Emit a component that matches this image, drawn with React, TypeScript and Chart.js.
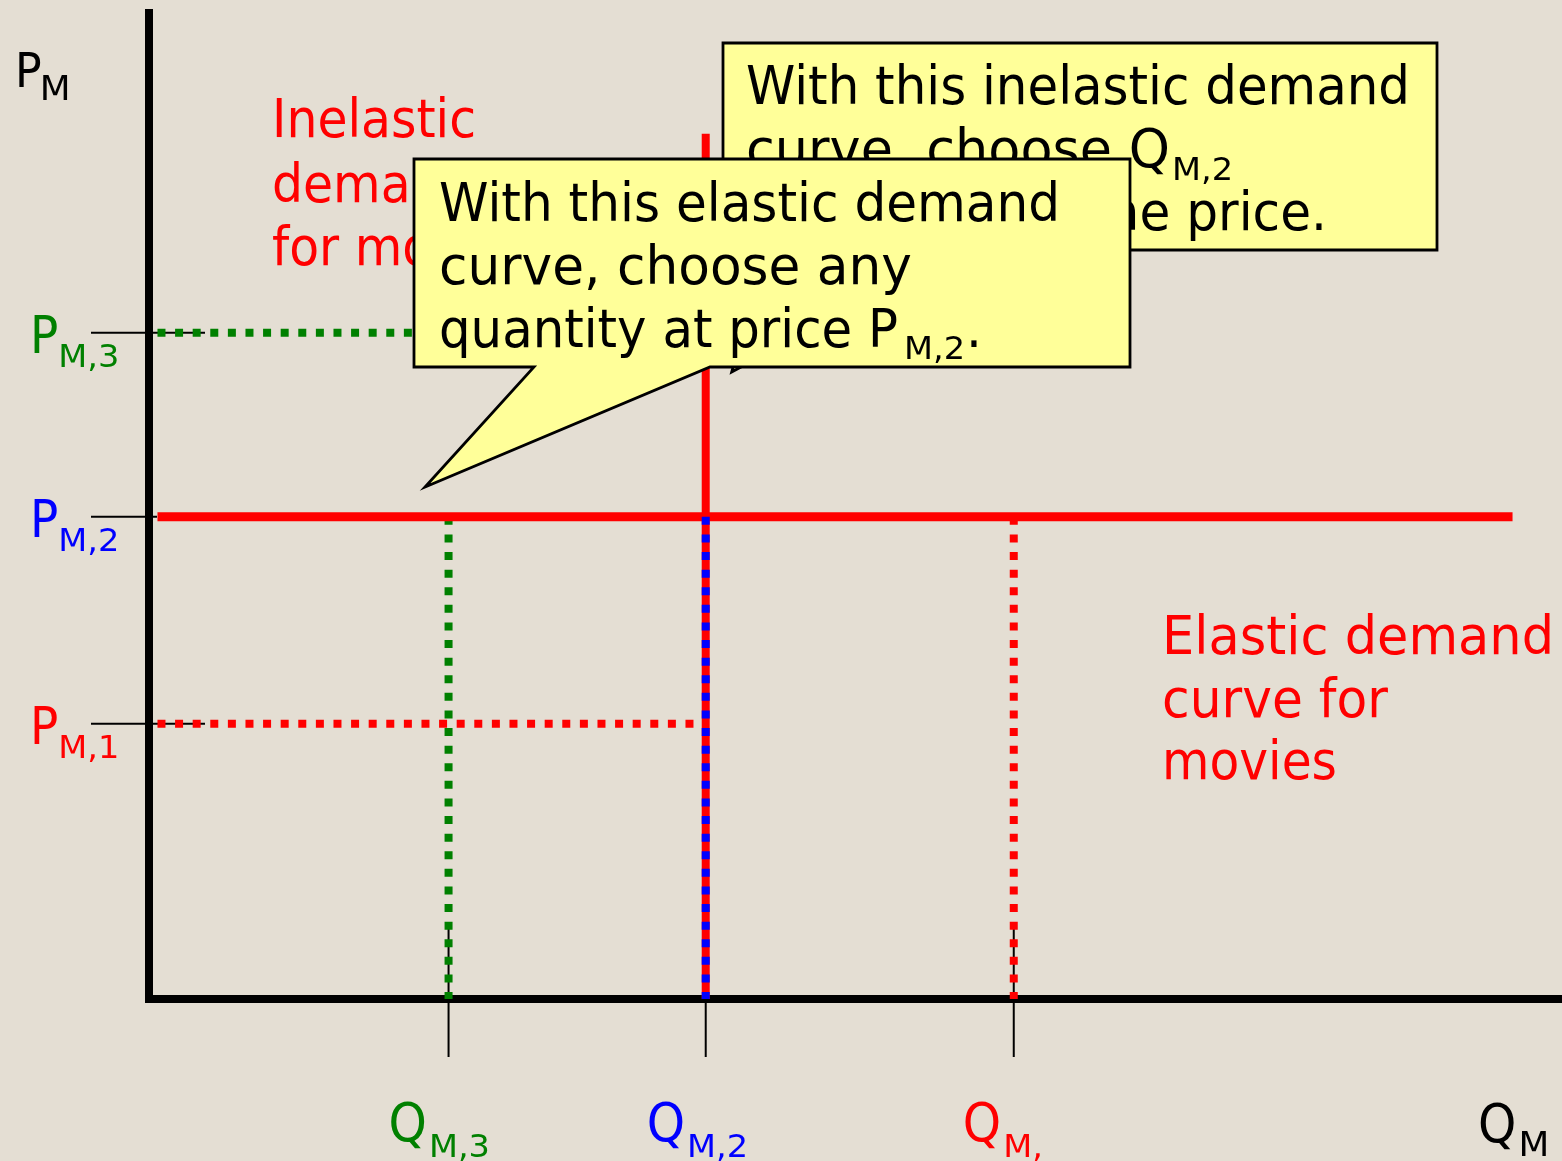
import React, { useEffect, useRef } from "react";
import { Chart, registerables } from "chart.js";

Chart.register(...registerables);

// ---- data (axis units 0..10) ----
const priceNames = ["M,3", "M,2", "M,1"];
const priceLevels = [6.73, 4.87, 2.78]; // P_M,3, P_M,2, P_M,1
const quantityNames = ["M,3", "M,2", "M,"];
const quantityLevels = [2.12, 3.94, 6.12]; // Q_M,3, Q_M,2, Q_M,1
const elasticDemandQ = [0.06, 9.65]; // horizontal demand at P_M,2
const inelasticDemandP = [0, 8.74]; // vertical demand at Q_M,2
const inelasticLabel = ["Inelastic", "demand", "for movies"];
const elasticLabel = ["Elastic demand", "curve for", "movies"];
const inelasticNote = ["With this inelastic demand", "curve, choose Q", "regardless of the price."];
const elasticNote = ["With this elastic demand", "curve, choose any", "quantity at price P"];

const RED = "#FF0000";
const GREEN = "#008000";
const BLUE = "#0000FF";
const BG = "#E4DED3";
const NOTE = "#FFFF99";
const FONT = '"DejaVu Sans"';
const DOT = [8, 9.6];

function setFont(ctx: CanvasRenderingContext2D, size: number) {
  ctx.font = `${size}px ${FONT}`;
}

function textAt(ctx: CanvasRenderingContext2D, t: string, x: number, y: number, size: number, color: string, sx: number) {
  setFont(ctx, size);
  ctx.save();
  ctx.translate(x, y);
  ctx.scale(sx, 1);
  ctx.fillStyle = color;
  ctx.textBaseline = "alphabetic";
  ctx.textAlign = "left";
  ctx.fillText(t, 0, 0);
  ctx.restore();
  return ctx.measureText(t).width * sx;
}

function fitScale(ctx: CanvasRenderingContext2D, t: string, size: number, target: number) {
  setFont(ctx, size);
  return target / ctx.measureText(t).width;
}

function block(
  ctx: CanvasRenderingContext2D,
  lines: string[],
  x: number,
  baselines: number[],
  size: number,
  color: string,
  targets: (number | null)[]
) {
  const sx0 = fitScale(ctx, lines[0], size, targets[0] as number);
  const ends: number[] = [];
  const sxs: number[] = [];
  lines.forEach((l, i) => {
    const tg = targets[i];
    const sx = tg ? fitScale(ctx, l, size, tg) : sx0;
    sxs.push(sx);
    ends.push(x + textAt(ctx, l, x, baselines[i], size, color, sx));
  });
  return { sx: sx0, sxs, ends };
}

function callout(ctx: CanvasRenderingContext2D, l: number, t: number, r: number, b: number, baseL: number, baseR: number, tipX: number, tipY: number) {
  ctx.save();
  ctx.beginPath();
  ctx.moveTo(l, t);
  ctx.lineTo(r, t);
  ctx.lineTo(r, b);
  ctx.lineTo(baseR, b);
  ctx.lineTo(tipX, tipY);
  ctx.lineTo(baseL, b);
  ctx.lineTo(l, b);
  ctx.closePath();
  ctx.fillStyle = NOTE;
  ctx.fill();
  ctx.lineWidth = 2.8;
  ctx.strokeStyle = "#000";
  ctx.lineJoin = "miter";
  ctx.stroke();
  ctx.restore();
}

const seg = (x1: number, y1: number, x2: number, y2: number) => [
  { x: x1, y: y1 },
  { x: x2, y: y2 },
];

export default function App() {
  const ref = useRef<HTMLCanvasElement | null>(null);

  useEffect(() => {
    if (!ref.current) return;
    const [p3, p2, p1] = priceLevels;
    const [q3, q2, q1] = quantityLevels;

    const line = (data: any, color: string, width: number, dash: number[] | undefined, order: number) => ({
      data,
      showLine: true,
      borderColor: color,
      backgroundColor: color,
      borderWidth: width,
      borderDash: dash || [],
      borderCapStyle: "butt",
      pointRadius: 0,
      pointHoverRadius: 0,
      tension: 0,
      order,
      clip: false,
    });

    const datasets = [
      line(seg(elasticDemandQ[0], p2, elasticDemandQ[1], p2), RED, 9, undefined, 3),
      line(seg(q2, inelasticDemandP[0], q2, inelasticDemandP[1]), RED, 8, undefined, 2),
      line(seg(q2, p2, q2, 0), BLUE, 8, DOT, 1),
      line(seg(q3, p2, q3, 0), GREEN, 8, DOT, 4),
      line(seg(q1, p2, q1, 0), RED, 8, DOT, 4),
      line(seg(elasticDemandQ[0], p3, q2, p3), GREEN, 8, DOT, 4),
      line(seg(elasticDemandQ[0], p1, q2, p1), RED, 8, DOT, 4),
    ];

    const bgPlugin = {
      id: "bg",
      beforeDraw(chart: any) {
        const c = chart.ctx;
        c.save();
        c.fillStyle = BG;
        c.fillRect(0, 0, chart.width, chart.height);
        c.restore();
      },
      beforeDatasetsDraw(chart: any) {
        const c = chart.ctx as CanvasRenderingContext2D;
        const xs = chart.scales.x;
        const ys = chart.scales.y;
        const ox = xs.getPixelForValue(0);
        const oy = ys.getPixelForValue(0);
        c.save();
        // thin tick marks
        c.strokeStyle = "#000";
        c.lineWidth = 2;
        priceLevels.forEach((p, i) => {
          const y = ys.getPixelForValue(p);
          c.beginPath();
          c.moveTo(ox - 58, y);
          c.lineTo(i === 1 ? ox + 8 : ox + 56, y);
          c.stroke();
        });
        quantityLevels.forEach((q) => {
          const x = xs.getPixelForValue(q);
          c.beginPath();
          c.moveTo(x, oy - 76);
          c.lineTo(x, oy + 58);
          c.stroke();
        });
        // axes
        c.lineWidth = 8;
        c.beginPath();
        c.moveTo(ox, chart.chartArea.top);
        c.lineTo(ox, oy + 4);
        c.stroke();
        c.beginPath();
        c.moveTo(ox - 4, oy);
        c.lineTo(chart.width, oy);
        c.stroke();
        c.restore();
      },
      afterDatasetsDraw(chart: any) {
        const c = chart.ctx as CanvasRenderingContext2D;
        const xs = chart.scales.x;
        const ys = chart.scales.y;
        const ox = xs.getPixelForValue(0);
        const oy = ys.getPixelForValue(0);
        const q2px = xs.getPixelForValue(quantityLevels[1]);

        // curve labels
        block(c, inelasticLabel, 272, [137, 202, 265], 53, RED, [204, null, null]);
        block(c, elasticLabel, 1162, [654, 717, 779], 53, RED, [392, 226, 175]);

        // notes
        callout(c, 723, 43, 1437, 250, 765, 960, q2px + 26, 372);
        const n1 = block(c, inelasticNote, 746, [104, 167, 230], 53, "#000", [664, 424, 581]);
        textAt(c, "M,2", n1.ends[1] + 2, 180, 32, "#000", 1.05);

        callout(c, 414, 159, 1130, 367, 534, 710, 425, 487);
        const n2 = block(c, elasticNote, 439, [221, 284, 347], 53, "#000", [621, 473, 459]);
        const subEnd = n2.ends[2] + 6 + textAt(c, "M,2", n2.ends[2] + 6, 359, 32, "#000", 1.05);
        textAt(c, ".", subEnd + 1, 347, 53, "#000", n2.sx);

        // axis titles
        const lsx = 0.92;
        const ssx = 1.05;
        const pw = textAt(c, "P", ox - 134, 87, 48, "#000", lsx);
        textAt(c, "M", ox - 134 + pw - 2, 100, 34, "#000", ssx);
        const qw = textAt(c, "Q", 1478, 1142, 53, "#000", lsx);
        textAt(c, "M", 1478 + qw + 2, 1156, 34, "#000", ssx);

        // price labels
        const pColors = [GREEN, BLUE, RED];
        priceLevels.forEach((p, i) => {
          const y = ys.getPixelForValue(p);
          const w = textAt(c, "P", ox - 119, y + 20, 51, pColors[i], lsx);
          textAt(c, priceNames[i], ox - 119 + w, y + 34, 32, pColors[i], ssx);
        });
        // quantity labels
        const qOff = [-60, -59, -51];
        quantityLevels.forEach((q, i) => {
          const x = xs.getPixelForValue(q) + qOff[i];
          const w = textAt(c, "Q", x, oy + 142, 53, pColors[i], lsx);
          textAt(c, quantityNames[i], x + w + 2, oy + 158, 32, pColors[i], ssx);
        });
      },
    };

    const chart = new Chart(ref.current, {
      type: "scatter",
      data: { datasets: datasets as any },
      options: {
        responsive: false,
        maintainAspectRatio: false,
        animation: false,
        events: [],
        layout: { padding: { left: 149, top: 9, right: 0, bottom: 162 } },
        scales: {
          x: { type: "linear", min: 0, max: 10, display: false },
          y: { type: "linear", min: 0, max: 10, display: false },
        },
        plugins: { legend: { display: false }, tooltip: { enabled: false } },
      },
      plugins: [bgPlugin],
    } as any);
    return () => chart.destroy();
  }, []);

  return (
    <div style={{ position: "absolute", left: 0, top: 0, width: 1562, height: 1161, background: BG }}>
      <canvas ref={ref} width={1562} height={1161} style={{ width: 1562, height: 1161, display: "block" }} />
    </div>
  );
}
